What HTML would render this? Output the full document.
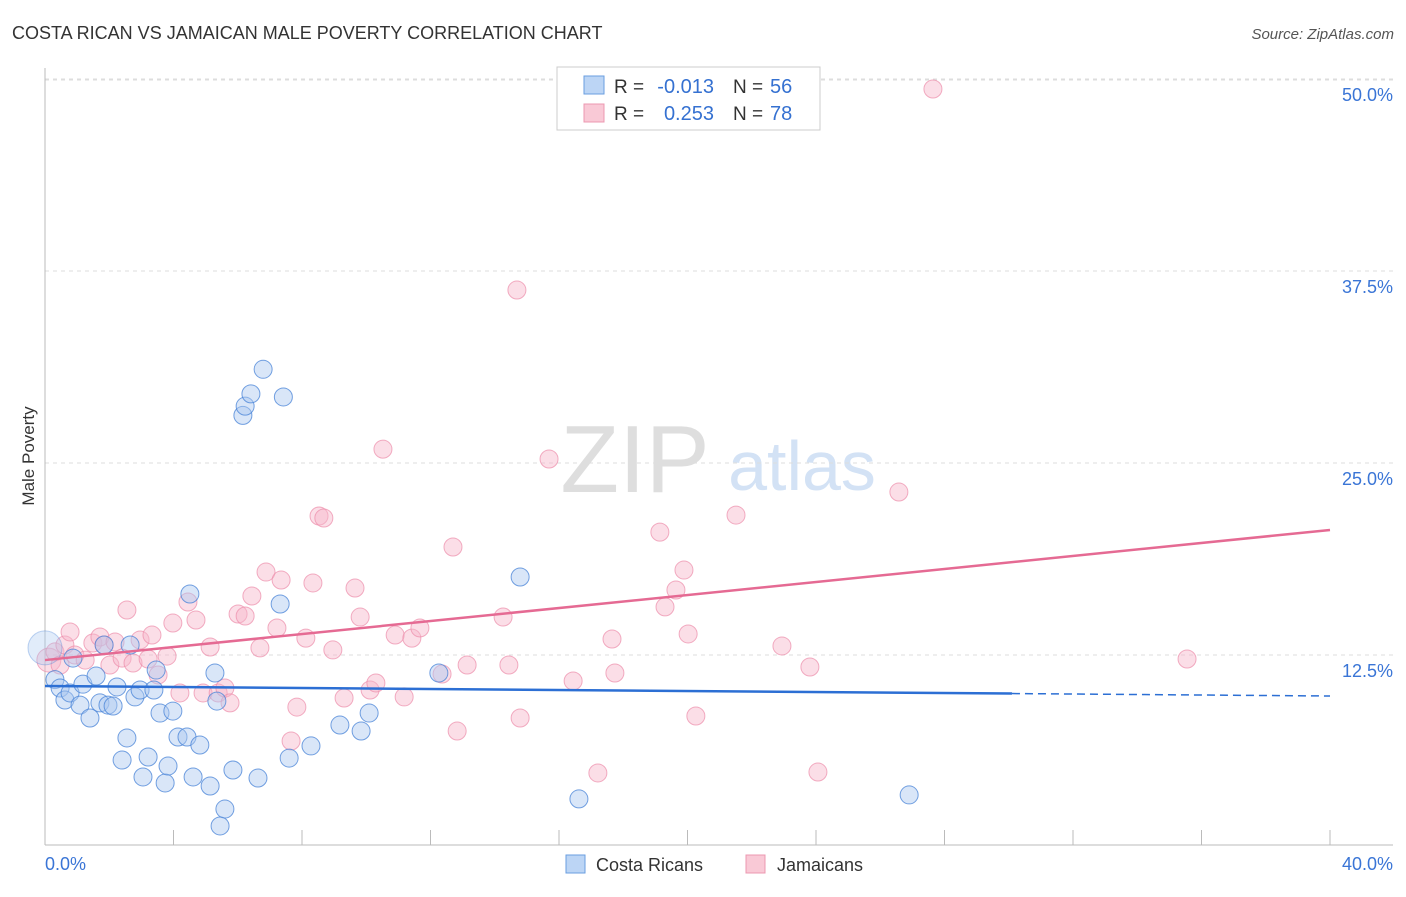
<!DOCTYPE html>
<html><head><meta charset="utf-8"><style>
body{margin:0;background:#fff;font-family:"Liberation Sans",sans-serif;}
svg text{font-family:"Liberation Sans",sans-serif;}
</style></head><body>
<svg id="chart" width="1406" height="892" xmlns="http://www.w3.org/2000/svg">
<text x="12" y="39" font-size="18" fill="#333">COSTA RICAN VS JAMAICAN MALE POVERTY CORRELATION CHART</text>
<text x="1394" y="39" font-size="15" fill="#555" font-style="italic" text-anchor="end">Source: ZipAtlas.com</text>
<text x="635" y="492" font-size="96" fill="#dedede" font-family="Liberation Serif" text-anchor="middle">ZIP</text>
<text x="802" y="490" font-size="70" fill="#d3e2f5" text-anchor="middle">atlas</text>
<text x="34" y="456" font-size="17" fill="#333" text-anchor="middle" transform="rotate(-90 34 456)">Male Poverty</text>
<g id="grid"></g><g id="axes"></g><g id="pts"></g><g id="trends"></g>
<g>
<rect x="557" y="67" width="263" height="63" fill="#fff" stroke="#ccc"/>
<rect x="584" y="76" width="20" height="18" fill="#bcd5f5" stroke="#6a9ee0"/>
<rect x="584" y="104" width="20" height="18" fill="#f9c9d6" stroke="#ec98b0"/>
<text x="614" y="93" font-size="19" fill="#333">R =</text>
<text x="714" y="93" font-size="20" fill="#3571d1" text-anchor="end">-0.013</text>
<text x="733" y="93" font-size="19" fill="#333">N =</text>
<text x="770" y="93" font-size="20" fill="#3571d1">56</text>
<text x="614" y="120" font-size="19" fill="#333">R =</text>
<text x="714" y="120" font-size="20" fill="#3571d1" text-anchor="end">0.253</text>
<text x="733" y="120" font-size="19" fill="#333">N =</text>
<text x="770" y="120" font-size="20" fill="#3571d1">78</text>
</g>
<g>
<rect x="566" y="855" width="19" height="18" fill="#bcd5f5" stroke="#6a9ee0"/>
<text x="596" y="871" font-size="18" fill="#333">Costa Ricans</text>
<rect x="746" y="855" width="19" height="18" fill="#f9c9d6" stroke="#ec98b0"/>
<text x="777" y="871" font-size="18" fill="#333">Jamaicans</text>
</g>
</svg>
<script>
const blueX=[0,0.31,0.47,0.62,0.78,0.87,1.09,1.18,1.4,1.59,1.71,1.84,1.96,2.12,2.24,2.4,2.55,2.65,2.8,2.96,3.05,3.21,3.39,3.46,3.58,3.74,3.83,3.98,4.14,4.42,4.51,4.61,4.82,5.14,5.29,5.35,5.6,5.45,5.85,6.16,6.23,6.41,6.63,6.79,7.32,7.42,7.6,8.28,9.18,9.84,10.09,12.26,14.79,16.62,26.9];
const blueY=[12.96,10.9,10.35,9.57,10.03,12.3,9.24,10.6,8.4,11.13,9.38,13.15,9.24,9.18,10.42,5.66,7.1,13.15,9.77,10.22,4.56,5.86,10.22,11.52,8.72,4.17,5.27,8.85,7.16,7.16,16.47,4.56,6.64,3.97,11.33,9.5,2.47,1.37,5.01,28.1,28.7,29.5,4.49,31.1,15.82,29.3,5.79,6.58,7.94,7.55,8.72,11.33,17.58,3.13,3.39];
const pinkX=[0.12,0.31,0.47,0.62,0.78,0.93,1.25,1.49,1.71,1.84,2.02,2.18,2.4,2.55,2.74,2.96,3.21,3.33,3.52,3.8,3.98,4.2,4.45,4.7,5.14,4.92,5.39,5.6,5.76,6.01,6.23,6.44,6.69,6.88,7.22,7.35,7.66,7.84,8.12,8.34,8.53,8.68,8.96,9.31,9.65,9.81,10.12,10.3,10.52,10.9,11.18,11.42,11.67,12.36,12.7,12.83,13.14,14.26,14.44,14.69,14.79,15.69,16.44,17.21,17.65,17.74,19.14,19.3,19.64,19.89,20.02,20.26,21.51,22.94,23.81,24.06,26.58,27.64,35.55];
const pinkY=[12.17,12.7,11.85,13.15,14.0,12.5,12.17,13.28,13.67,13.15,11.85,13.35,12.3,15.43,11.98,13.48,12.24,13.8,11.2,12.43,14.58,10.03,15.95,14.78,13.02,10.03,10.03,10.35,9.38,15.17,15.04,16.34,12.96,17.9,14.26,17.38,6.9,9.11,13.6,17.19,21.55,21.42,12.83,9.7,16.86,14.97,10.22,10.68,25.9,13.8,9.77,13.6,14.26,11.26,19.53,7.55,11.85,14.97,11.85,36.26,8.4,25.26,10.81,4.82,13.54,11.33,20.5,15.63,16.73,18.03,13.87,8.53,21.61,13.09,11.72,4.88,23.11,49.35,12.24];
const blueTrend=[10.48,9.83]; // y at x=0 and x=40
const pinkTrend=[12.17,20.64];
const yTicks=[12.5,25,37.5,50];
const yTickLabels=["12.5%","25.0%","37.5%","50.0%"];
const xTickLabels=["0.0%","40.0%"];
const NS="http://www.w3.org/2000/svg";
const X=v=>45+v/40*1285, Y=v=>847-v*15.36;
function mk(t,a,p){const e=document.createElementNS(NS,t);for(const k in a)e.setAttribute(k,a[k]);p.appendChild(e);return e;}
const grid=document.getElementById('grid'),axes=document.getElementById('axes'),pts=document.getElementById('pts'),tr=document.getElementById('trends');
mk('line',{x1:45,x2:1393,y1:80,y2:80,stroke:'#ddd','stroke-dasharray':'4,4'},grid);
yTicks.forEach((v,i)=>{
 const g=mk('line',{x1:45,x2:1393,y1:Y(v),y2:Y(v),stroke:'#ddd','stroke-dasharray':'4,4'},grid);
 
 
 const t=mk('text',{x:1393,y:Y(v)+22,'font-size':18,fill:'#3a75d6','text-anchor':'end'},axes);
 t.textContent=yTickLabels[i];
 
 
});
mk('line',{x1:45,x2:45,y1:68,y2:845,stroke:'#bbb'},axes);
mk('line',{x1:45,x2:1393,y1:845,y2:845,stroke:'#bbb'},axes);
for(let i=0;i<=10;i++){mk('line',{x1:X(i*4),x2:X(i*4),y1:830,y2:845,stroke:'#bbb'},axes);}
const xl0=mk('text',{x:45,y:870,'font-size':18,fill:'#3a75d6'},axes);xl0.textContent=xTickLabels[0];


const xl1=mk('text',{x:1393,y:870,'font-size':18,fill:'#3a75d6','text-anchor':'end'},axes);xl1.textContent=xTickLabels[1];


pinkX.forEach((v,i)=>{const c=mk('circle',{cx:X(v),cy:Y(pinkY[i]),r:i==0?12:9,fill:'rgba(247,182,201,0.45)',stroke:'rgba(236,140,170,0.7)','stroke-width':1},pts);
 
 });
blueX.forEach((v,i)=>{const c=mk('circle',{cx:X(v),cy:Y(blueY[i]),r:i==0?17:9,fill:i==0?'rgba(170,200,240,0.35)':'rgba(170,200,240,0.45)',stroke:i==0?'rgba(70,130,215,0.35)':'rgba(70,130,215,0.75)','stroke-width':1},pts);
 
 });
const by=x=>blueTrend[0]+(blueTrend[1]-blueTrend[0])*x/40;
const b1=mk('line',{x1:X(0),y1:Y(by(0)),x2:X(30.1),y2:Y(by(30.1)),stroke:'#2c6fd4','stroke-width':2.5},tr);


const b2=mk('line',{x1:X(30.1),y1:Y(by(30.1)),x2:X(40),y2:Y(by(40)),stroke:'#2c6fd4','stroke-width':1.5,'stroke-dasharray':'8,5'},tr);


const p1=mk('line',{x1:X(0),y1:Y(pinkTrend[0]),x2:X(40),y2:Y(pinkTrend[1]),stroke:'#e56a93','stroke-width':2.5},tr);


</script>
</body></html>
